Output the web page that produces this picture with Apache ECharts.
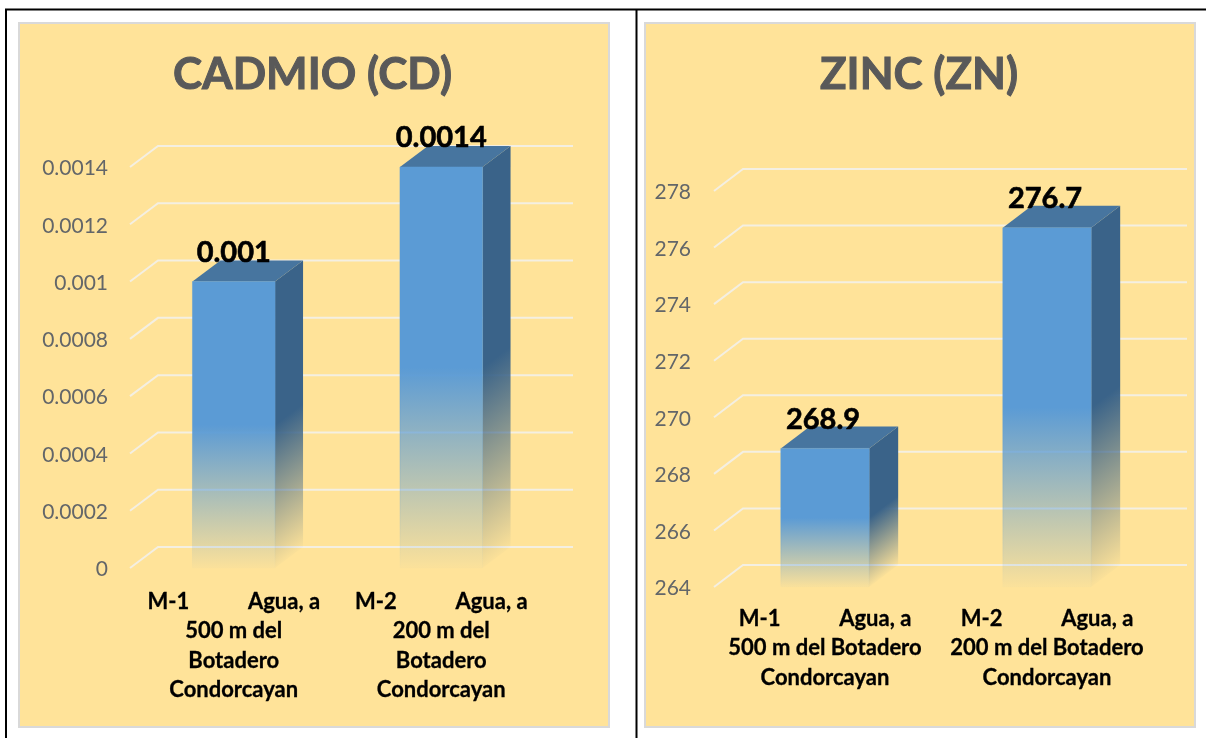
<!DOCTYPE html>
<html>
<head>
<meta charset="utf-8">
<style>html,body{margin:0;padding:0;background:#fff}#c{width:1206px;height:738px}</style>
<script src="https://cdn.jsdelivr.net/npm/echarts@6/dist/echarts.min.js"></script>
</head>
<body>
<div id="c"></div>
<script>
const titleLeft = 'CADMIO (CD)';
const titleRight = 'ZINC (ZN)';
const categoriesLeft = [
  'M-1           Agua, a\n500 m del\nBotadero\nCondorcayan',
  'M-2           Agua, a\n200 m del\nBotadero\nCondorcayan'
];
const categoriesRight = [
  'M-1           Agua, a\n500 m del Botadero\nCondorcayan',
  'M-2           Agua, a\n200 m del Botadero\nCondorcayan'
];
const valuesLeft = [0.001, 0.0014];
const valuesRight = [268.9, 276.7];
const ticksLeft = [0, 0.0002, 0.0004, 0.0006, 0.0008, 0.001, 0.0012, 0.0014];
const ticksRight = [264, 266, 268, 270, 272, 274, 276, 278];

const PANEL = '#FFE399';
const FRONT = [91, 155, 213];
const SIDE = [58, 99, 137];
const TOP = '#47759F';
const FONT = 'Lato, Carlito, "Noto Sans", sans-serif';
const rgba = (c, a) => `rgba(${c[0]},${c[1]},${c[2]},${a})`;
const stops = (c, k) => [
  { offset: 0, color: rgba(c, k) },
  { offset: 0.5, color: rgba(c, k) },
  { offset: 1, color: rgba(c, 0.02 * k) }
];
const fade = (c, k) => ({ type: 'linear', x: 0, y: 0, x2: 0, y2: 1, colorStops: stops(c, k) });

function gridRender(dx, dy) {
  return function (params, api) {
    const p = api.coord([0, api.value(0)]);
    const cs = params.coordSys;
    const x0 = cs.x, y = p[1];
    return {
      type: 'polyline',
      shape: { points: [[x0, y], [x0 + dx, y + dy], [x0 + cs.width + dx, y + dy]] },
      style: { stroke: '#F4EFE2', lineWidth: 2, fill: null },
      silent: true
    };
  };
}

function barRender(dx, dy, labelShift) {
  return function (params, api) {
    const i = api.value(0), v = api.value(1);
    const c = api.coord([i, v]);
    const base = api.coord([i, api.value(2)]);
    const w = api.size([1, 0])[0] * 0.398;
    const xl = c[0] - w / 2, xr = c[0] + w / 2, yt = c[1], yb = base[1];
    const h = yb - yt;
    // side face: the fade follows the depth direction, so it is skewed
    const len = Math.hypot(dx, dy);
    const nx = -dy / len, ny = dx / len;
    const proj = h * ny;
    const sideFill = {
      type: 'linear', global: true,
      x: xr, y: yt, x2: xr + nx * proj, y2: yt + ny * proj,
      colorStops: stops(SIDE, 1)
    };
    return {
      type: 'group',
      children: [
        {
          type: 'polygon',
          shape: { points: [[xr, yt], [xr + dx, yt + dy], [xr + dx, yb + dy], [xr, yb]] },
          style: { fill: sideFill }
        },
        {
          type: 'polygon',
          shape: { points: [[xl, yt], [xr, yt], [xr + dx, yt + dy], [xl + dx, yt + dy]] },
          style: { fill: TOP }
        },
        {
          type: 'rect',
          shape: { x: xl, y: yt, width: w, height: h },
          style: { fill: fade(FRONT, 1), stroke: fade(FRONT, 0.5), lineWidth: 1 }
        },
        {
          type: 'text',
          x: c[0] + labelShift, y: yt - 29,
          style: {
            text: String(v), fill: '#000', font: `bold 29px ${FONT}`,
            stroke: '#000', lineWidth: 0.6,
            textAlign: 'center', textVerticalAlign: 'middle'
          }
        }
      ]
    };
  };
}

const yLabel = (m) => ({ color: '#636669', fontFamily: FONT, fontSize: 21, margin: m, verticalAlign: 'top', lineHeight: 3 });
const xLabel = (lh, m) => ({
  color: '#000', fontFamily: FONT, fontSize: 22, fontWeight: 'bold',
  interval: 0, lineHeight: lh, margin: m, align: 'center', verticalAlign: 'top',
  textBorderColor: '#000', textBorderWidth: 0.3
});
const titleStyle = {
  color: '#595959', fontFamily: FONT, fontSize: 44, fontWeight: 'bold',
  textBorderColor: '#595959', textBorderWidth: 1
};

const panels = [[19, 23, 590, 704], [645, 23, 550, 704]];

const option = {
  animation: false,
  backgroundColor: '#fff',
  graphic: {
    elements: [
      { type: 'rect', z: -10, silent: true, shape: { x: 6, y: 9.5, width: 1300, height: 800 }, style: { fill: '#fff', stroke: '#000', lineWidth: 2 } },
      { type: 'line', z: -10, silent: true, shape: { x1: 636.5, y1: 9, x2: 636.5, y2: 738 }, style: { stroke: '#000', lineWidth: 2 } },
      ...panels.map(p => ({
        type: 'rect', z: -9, silent: true,
        shape: { x: p[0], y: p[1], width: p[2], height: p[3] },
        style: { fill: PANEL, stroke: '#D9D9D9', lineWidth: 2 }
      }))
    ]
  },
  title: [
    { text: titleLeft, left: 307.5, top: 70, textAlign: 'center', textVerticalAlign: 'middle', textStyle: titleStyle },
    { text: titleRight, left: 914, top: 70, textAlign: 'center', textVerticalAlign: 'middle', textStyle: titleStyle }
  ],
  grid: [
    { left: 130, top: 167, width: 415, height: 401 },
    { left: 714, top: 191, width: 444, height: 396 }
  ],
  xAxis: [
    { gridIndex: 0, type: 'category', data: categoriesLeft, axisLine: { show: false }, axisTick: { show: false }, axisLabel: xLabel(29.5, 19) },
    { gridIndex: 1, type: 'category', data: categoriesRight, axisLine: { show: false }, axisTick: { show: false }, axisLabel: xLabel(29.5, 17) }
  ],
  yAxis: [
    { gridIndex: 0, type: 'value', min: 0, max: 0.0014, interval: 0.0002, axisLine: { show: false }, axisTick: { show: false }, splitLine: { show: false }, axisLabel: yLabel(22) },
    { gridIndex: 1, type: 'value', min: 264, max: 278, interval: 2, axisLine: { show: false }, axisTick: { show: false }, splitLine: { show: false }, axisLabel: yLabel(23) }
  ],
  series: [
    { type: 'custom', xAxisIndex: 0, yAxisIndex: 0, renderItem: gridRender(28, -21), data: ticksLeft.map(t => [t]), encode: { y: 0 }, z: 1, silent: true },
    { type: 'custom', xAxisIndex: 1, yAxisIndex: 1, renderItem: gridRender(29, -22), data: ticksRight.map(t => [t]), encode: { y: 0 }, z: 1, silent: true },
    { type: 'custom', xAxisIndex: 0, yAxisIndex: 0, renderItem: barRender(28, -21, 0), data: valuesLeft.map((v, i) => [i, v, 0]), encode: { x: 0, y: 1 }, z: 2 },
    { type: 'custom', xAxisIndex: 1, yAxisIndex: 1, renderItem: barRender(29, -22, -2), data: valuesRight.map((v, i) => [i, v, 264]), encode: { x: 0, y: 1 }, z: 2 }
  ]
};
const chart = echarts.init(document.getElementById('c'));
chart.setOption(option);
</script>
</body>
</html>
